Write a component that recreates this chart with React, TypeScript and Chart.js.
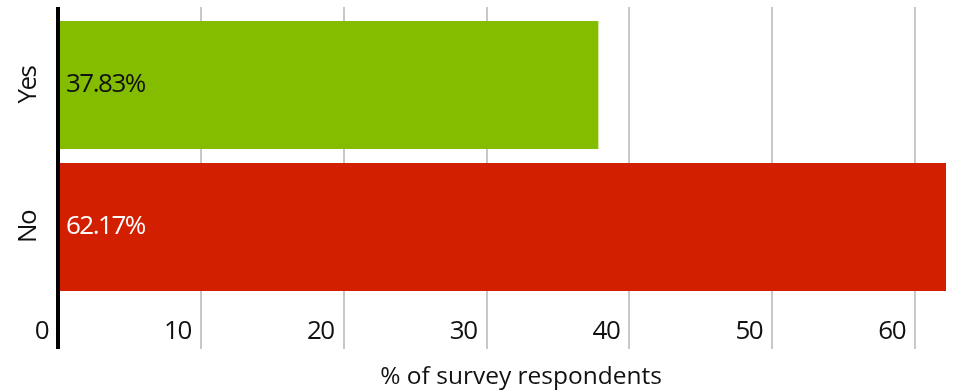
import React, { useEffect, useRef } from "react";
import { Chart, registerables } from "chart.js";

Chart.register(...registerables);

// Survey answers and their share of respondents (%)
const categories = ["Yes", "No"];
const shares = [37.83, 62.17];
const barColors = ["#84bd00", "#d21f00"];
const valueLabelColors = ["#111111", "#ffffff"];
const axisTitle = "      % of survey respondents";
const axisMax = 62.17;
const tickStep = 10;

const FONT = "'Open Sans', 'Noto Sans', sans-serif";
const TIGHT = "-1.5px";

const gridColor = (ctx: any) => (ctx.tick && ctx.tick.value === 0 ? "#000000" : "#c8c8c8");
const gridWidth = (ctx: any) => (ctx.tick && ctx.tick.value === 0 ? 4 : 2);

// Tightens letter spacing for tick and value labels (drawn after the bars),
// leaving the axis title at normal spacing.
const letterSpacing = {
  id: "letterSpacing",
  beforeDraw(chart: any) {
    chart.ctx.letterSpacing = "0px";
  },
  afterDatasetsDraw(chart: any) {
    chart.ctx.letterSpacing = TIGHT;
  },
  afterDraw(chart: any) {
    chart.ctx.letterSpacing = "0px";
  },
};

// Writes each bar's value just inside its left end
const valueLabels = {
  id: "valueLabels",
  afterDatasetsDraw(chart: any) {
    const { ctx } = chart;
    const meta = chart.getDatasetMeta(0);
    ctx.save();
    ctx.letterSpacing = TIGHT;
    ctx.font = `26px ${FONT}`;
    ctx.textAlign = "left";
    ctx.textBaseline = "middle";
    meta.data.forEach((bar: any, i: number) => {
      ctx.fillStyle = valueLabelColors[i];
      ctx.fillText(`${shares[i].toFixed(2)}%`, bar.base + 6, bar.y);
    });
    ctx.restore();
  },
};

export default function App() {
  const canvasRef = useRef<HTMLCanvasElement | null>(null);

  useEffect(() => {
    const canvas = canvasRef.current;
    if (!canvas) return;
    const chart = new Chart(canvas, {
      type: "bar",
      data: {
        labels: categories,
        datasets: [
          {
            data: shares,
            backgroundColor: barColors,
            borderWidth: 0,
            categoryPercentage: 1,
            barPercentage: 0.9,
            xAxisID: "x",
            yAxisID: "y",
          },
        ],
      },
      options: {
        indexAxis: "y",
        responsive: false,
        animation: false,
        layout: { padding: { top: 7, right: 28, bottom: 0, left: 0 } },
        plugins: {
          legend: { display: false },
          tooltip: { enabled: false },
        },
        scales: {
          x: {
            type: "linear",
            position: "bottom",
            min: 0,
            max: axisMax,
            border: { display: false },
            grid: {
              color: gridColor,
              lineWidth: gridWidth,
              drawTicks: true,
              tickLength: 51,
            },
            ticks: {
              stepSize: tickStep,
              includeBounds: false,
              align: "end",
              labelOffset: -10,
              padding: -33,
              color: "#111111",
              font: { family: FONT, size: 26 },
              autoSkip: false,
              maxRotation: 0,
              z: 1,
            },
            title: {
              display: true,
              text: axisTitle,
              color: "#111111",
              font: { family: FONT, size: 24.5 },
              padding: { top: 0, bottom: 0 },
            },
            afterFit(scale: any) {
              scale.height = 94;
              scale.paddingLeft = 0;
              scale.paddingRight = 0;
            },
          },
          x2: {
            type: "linear",
            position: "top",
            min: 0,
            max: axisMax,
            border: { display: false },
            grid: {
              color: gridColor,
              lineWidth: gridWidth,
              drawOnChartArea: false,
              drawTicks: true,
              tickLength: 7,
            },
            ticks: { display: false, stepSize: tickStep, includeBounds: false },
            afterFit(scale: any) {
              scale.height = 7;
              scale.paddingLeft = 0;
              scale.paddingRight = 0;
            },
          },
          y: {
            type: "category",
            position: "left",
            border: { display: false },
            grid: { display: false, drawTicks: false },
            ticks: {
              minRotation: 90,
              maxRotation: 90,
              crossAlign: "center",
              padding: 9,
              color: "#111111",
              font: { family: FONT, size: 26 },
              z: 1,
            },
            afterFit(scale: any) {
              scale.width = 58;
              scale.paddingTop = 0;
              scale.paddingBottom = 0;
            },
          },
        },
      },
      plugins: [letterSpacing, valueLabels],
    });
    return () => chart.destroy();
  }, []);

  return (
    <div style={{ position: "absolute", left: 0, top: 0, width: 974, height: 392, background: "#ffffff" }}>
      <canvas ref={canvasRef} width={974} height={392} style={{ display: "block" }} />
    </div>
  );
}
